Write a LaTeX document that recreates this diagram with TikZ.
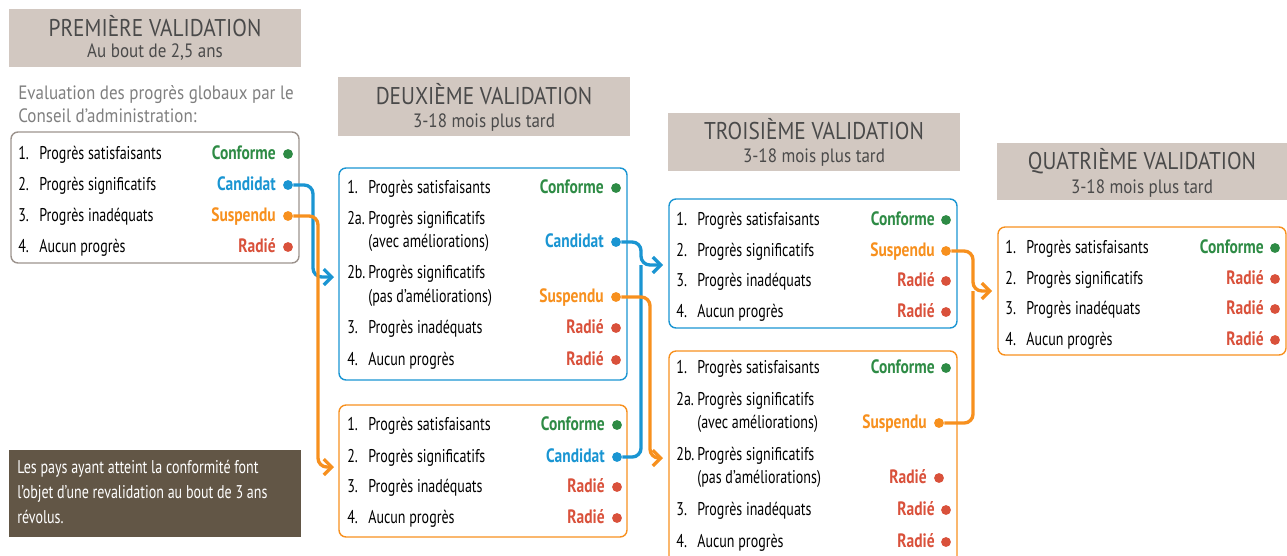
\documentclass[tikz,border=0pt]{standalone}
\usepackage{fontspec}
\setmainfont{PT Sans}[FakeStretch=0.76, BoldFeatures={FakeStretch=0.8}]
\newfontfamily\hdfont{PT Sans}[FakeStretch=0.88]
\usepackage{xcolor}
\usepackage{tikz}
\usetikzlibrary{arrows.meta}
\definecolor{conf}{HTML}{2E8B45}
\definecolor{cand}{HTML}{1A95D2}
\definecolor{susp}{HTML}{F7901E}
\definecolor{rad}{HTML}{D9513B}
\definecolor{hdrgray}{HTML}{D2C8C1}
\definecolor{notebrown}{HTML}{625646}
\definecolor{boxgray}{HTML}{9C938D}
\definecolor{titlegray}{HTML}{4A4A4A}
\definecolor{evalgray}{HTML}{7F7F7F}
\newcommand{\rnum}[1]{\makebox[0.42cm][l]{#1}}

\begin{document}
\begin{tikzpicture}[x=0.02cm, y=-0.02cm,
    item/.style={anchor=base west, inner sep=0pt, font=\fontsize{10.5}{12}\selectfont},
    stat/.style={anchor=base east, inner sep=0pt, font=\fontsize{11}{12}\selectfont\bfseries},
    sdot/.style={circle, inner sep=0pt, minimum size=5.6pt},
    hdtitle/.style={anchor=base, inner sep=0pt, text=titlegray, font=\hdfont\fontsize{13.8}{15}\selectfont},
    subtitle/.style={anchor=base, inner sep=0pt, text=titlegray, font=\hdfont\fontsize{11}{12}\selectfont},
    conn/.style={line width=1.9pt, rounded corners=5pt},
    arrowtip/.style={-{Straight Barb[length=4.5pt,width=9pt]}}]
        \clip (0,0) rectangle (1287,555);

        % Première validation
        \fill[hdrgray] (9,9) rectangle (301,67);
        \node[hdtitle] (p-title) at (155,36) {PREMIÈRE VALIDATION};
        \node[subtitle] (p-sub) at (155,57) {Au bout de 2,5 ans};
        \node[item, text=evalgray, font=\hdfont\fontsize{11}{12}\selectfont] (p-eval1) at (18,99) {Evaluation des progrès globaux par le};
        \node[item, text=evalgray, font=\hdfont\fontsize{11}{12}\selectfont] (p-eval2) at (18,122) {Conseil d’administration:};
        \draw[boxgray, line width=0.8pt, rounded corners=4pt] (11,132) rectangle (299,263);
        \node[item] (p-r1) at (18,159) {\rnum{1.}Progrès satisfaisants}; \node[stat, text=conf] (p-s1) at (276,159) {Conforme}; \node[sdot, fill=conf] (p-conf) at (288,154) {};
        \node[item] (p-r2) at (18,190) {\rnum{2.}Progrès significatifs}; \node[stat, text=cand] (p-s2) at (276,190) {Candidat}; \node[sdot, fill=cand] (p-cand) at (288,185) {};
        \node[item] (p-r3) at (18,221) {\rnum{3.}Progrès inadéquats}; \node[stat, text=susp] (p-s3) at (276,221) {Suspendu}; \node[sdot, fill=susp] (p-susp) at (288,216) {};
        \node[item] (p-r4) at (18,252) {\rnum{4.}Aucun progrès}; \node[stat, text=rad] (p-s4) at (276,252) {Radié}; \node[sdot, fill=rad] (p-rad) at (288,247) {};

        % Note
        \fill[notebrown] (9,450) rectangle (301,537);
        \node[item, text=white] (note1) at (17,473) {Les pays ayant atteint la conformité font};
        \node[item, text=white] (note2) at (17,498) {l’objet d’une revalidation au bout de 3 ans};
        \node[item, text=white] (note3) at (17,523) {révolus.};

        % Deuxième validation
        \fill[hdrgray] (338,77) rectangle (630,136);
        \node[hdtitle] (d-title) at (484,104) {DEUXIÈME VALIDATION};
        \node[subtitle] (d-sub) at (484,127) {3-18 mois plus tard};
        \draw[cand, line width=0.8pt, rounded corners=4pt] (339,168) rectangle (627,380);
        \node[item] (da-r1) at (347,193) {\rnum{1.}Progrès satisfaisants}; \node[stat, text=conf] (da-s1) at (604,193) {Conforme}; \node[sdot, fill=conf] (da-conf) at (616,188) {};
        \node[item] (da-r2) at (347,224) {\rnum{2a.}Progrès significatifs};
        \node[item] (da-r2b) at (368,247) {(avec améliorations)}; \node[stat, text=cand] (da-s2) at (604,247) {Candidat}; \node[sdot, fill=cand] (da-cand) at (616,242) {};
        \node[item] (da-r3) at (347,278) {\rnum{2b.}Progrès significatifs};
        \node[item] (da-r3b) at (368,302) {(pas d’améliorations)}; \node[stat, text=susp] (da-s3) at (604,302) {Suspendu}; \node[sdot, fill=susp] (da-susp) at (616,297) {};
        \node[item] (da-r4) at (347,333) {\rnum{3.}Progrès inadéquats}; \node[stat, text=rad] (da-s4) at (604,333) {Radié}; \node[sdot, fill=rad] (da-rad1) at (616,328) {};
        \node[item] (da-r5) at (347,365) {\rnum{4.}Aucun progrès}; \node[stat, text=rad] (da-s5) at (604,365) {Radié}; \node[sdot, fill=rad] (da-rad2) at (616,360) {};

        \draw[susp, line width=0.8pt, rounded corners=4pt] (339,405) rectangle (627,537);
        \node[item] (db-r1) at (347,430) {\rnum{1.}Progrès satisfaisants}; \node[stat, text=conf] (db-s1) at (605,430) {Conforme}; \node[sdot, fill=conf] (db-conf) at (617,425) {};
        \node[item] (db-r2) at (347,462) {\rnum{2.}Progrès significatifs}; \node[stat, text=cand] (db-s2) at (605,462) {Candidat}; \node[sdot, fill=cand] (db-cand) at (617,457) {};
        \node[item] (db-r3) at (347,492) {\rnum{3.}Progrès inadéquats}; \node[stat, text=rad] (db-s3) at (605,492) {Radié}; \node[sdot, fill=rad] (db-rad1) at (617,487) {};
        \node[item] (db-r4) at (347,523) {\rnum{4.}Aucun progrès}; \node[stat, text=rad] (db-s4) at (605,523) {Radié}; \node[sdot, fill=rad] (db-rad2) at (617,518) {};

        % Troisième validation
        \fill[hdrgray] (668,113) rectangle (960,171);
        \node[hdtitle] (t-title) at (814,139) {TROISIÈME VALIDATION};
        \node[subtitle] (t-sub) at (814,162) {3-18 mois plus tard};
        \draw[cand, line width=0.8pt, rounded corners=4pt] (669,199) rectangle (957,328);
        \node[item] (ta-r1) at (676,225) {\rnum{1.}Progrès satisfaisants}; \node[stat, text=conf] (ta-s1) at (935,225) {Conforme}; \node[sdot, fill=conf] (ta-conf) at (946,220) {};
        \node[item] (ta-r2) at (676,256) {\rnum{2.}Progrès significatifs}; \node[stat, text=susp] (ta-s2) at (935,256) {Suspendu}; \node[sdot, fill=susp] (ta-susp) at (946,251) {};
        \node[item] (ta-r3) at (676,286) {\rnum{3.}Progrès inadéquats}; \node[stat, text=rad] (ta-s3) at (935,286) {Radié}; \node[sdot, fill=rad] (ta-rad1) at (946,281) {};
        \node[item] (ta-r4) at (676,317) {\rnum{4.}Aucun progrès}; \node[stat, text=rad] (ta-s4) at (935,317) {Radié}; \node[sdot, fill=rad] (ta-rad2) at (946,312) {};

        \draw[susp, line width=0.8pt, rounded corners=4pt] (669,351) rectangle (957,580);
        \node[item] (tb-r1) at (676,373) {\rnum{1.}Progrès satisfaisants}; \node[stat, text=conf] (tb-s1) at (935,373) {Conforme}; \node[sdot, fill=conf] (tb-conf) at (946,368) {};
        \node[item] (tb-r2) at (676,405) {\rnum{2a.}Progrès significatifs};
        \node[item] (tb-r2b) at (697,428) {(avec améliorations)}; \node[stat, text=susp] (tb-s2) at (927,428) {Suspendu}; \node[sdot, fill=susp] (tb-susp) at (939,423) {};
        \node[item] (tb-r3) at (676,460) {\rnum{2b.}Progrès significatifs};
        \node[item] (tb-r3b) at (697,483) {(pas d’améliorations)}; \node[stat, text=rad] (tb-s3) at (927,483) {Radié}; \node[sdot, fill=rad] (tb-rad1) at (939,478) {};
        \node[item] (tb-r4) at (676,515) {\rnum{3.}Progrès inadéquats}; \node[stat, text=rad] (tb-s4) at (935,515) {Radié}; \node[sdot, fill=rad] (tb-rad2) at (946,510) {};
        \node[item] (tb-r5) at (676,547) {\rnum{4.}Aucun progrès}; \node[stat, text=rad] (tb-s5) at (935,547) {Radié}; \node[sdot, fill=rad] (tb-rad3) at (946,542) {};

        % Quatrième validation
        \fill[hdrgray] (997,143) rectangle (1287,200);
        \node[hdtitle] (q-title) at (1142,169) {QUATRIÈME VALIDATION};
        \node[subtitle] (q-sub) at (1142,193) {3-18 mois plus tard};
        \draw[susp, line width=0.8pt, rounded corners=4pt] (998,227) rectangle (1286,355);
        \node[item] (q-r1) at (1005,253) {\rnum{1.}Progrès satisfaisants}; \node[stat, text=conf] (q-s1) at (1264,253) {Conforme}; \node[sdot, fill=conf] (q-conf) at (1275,248) {};
        \node[item] (q-r2) at (1005,284) {\rnum{2.}Progrès significatifs}; \node[stat, text=rad] (q-s2) at (1264,284) {Radié}; \node[sdot, fill=rad] (q-rad1) at (1275,279) {};
        \node[item] (q-r3) at (1005,314) {\rnum{3.}Progrès inadéquats}; \node[stat, text=rad] (q-s3) at (1264,314) {Radié}; \node[sdot, fill=rad] (q-rad2) at (1275,309) {};
        \node[item] (q-r4) at (1005,345) {\rnum{4.}Aucun progrès}; \node[stat, text=rad] (q-s4) at (1264,345) {Radié}; \node[sdot, fill=rad] (q-rad3) at (1275,340) {};

        % Connectors
        \coordinate (to-da) at (334,277);
        \coordinate (to-db) at (334,467);
        \coordinate (to-ta) at (663,265);
        \coordinate (to-tb) at (663,458);
        \coordinate (to-q) at (992,291);
        \draw[conn, cand, arrowtip] (p-cand) -| (313,277) -- (to-da);
        \draw[conn, susp, arrowtip] (p-susp) -| (318,467) -- (to-db);
        \draw[conn, cand, arrowtip] (da-cand) -| (641,265) -- (to-ta);
        \draw[conn, cand] (db-cand) -| (641,265);
        \draw[conn, susp, arrowtip] (da-susp) -| (650,458) -- (to-tb);
        \draw[conn, susp, arrowtip] (ta-susp) -| (973,291) -- (to-q);
        \draw[conn, susp] (tb-susp) -| (973,291);
\end{tikzpicture}
\end{document}
